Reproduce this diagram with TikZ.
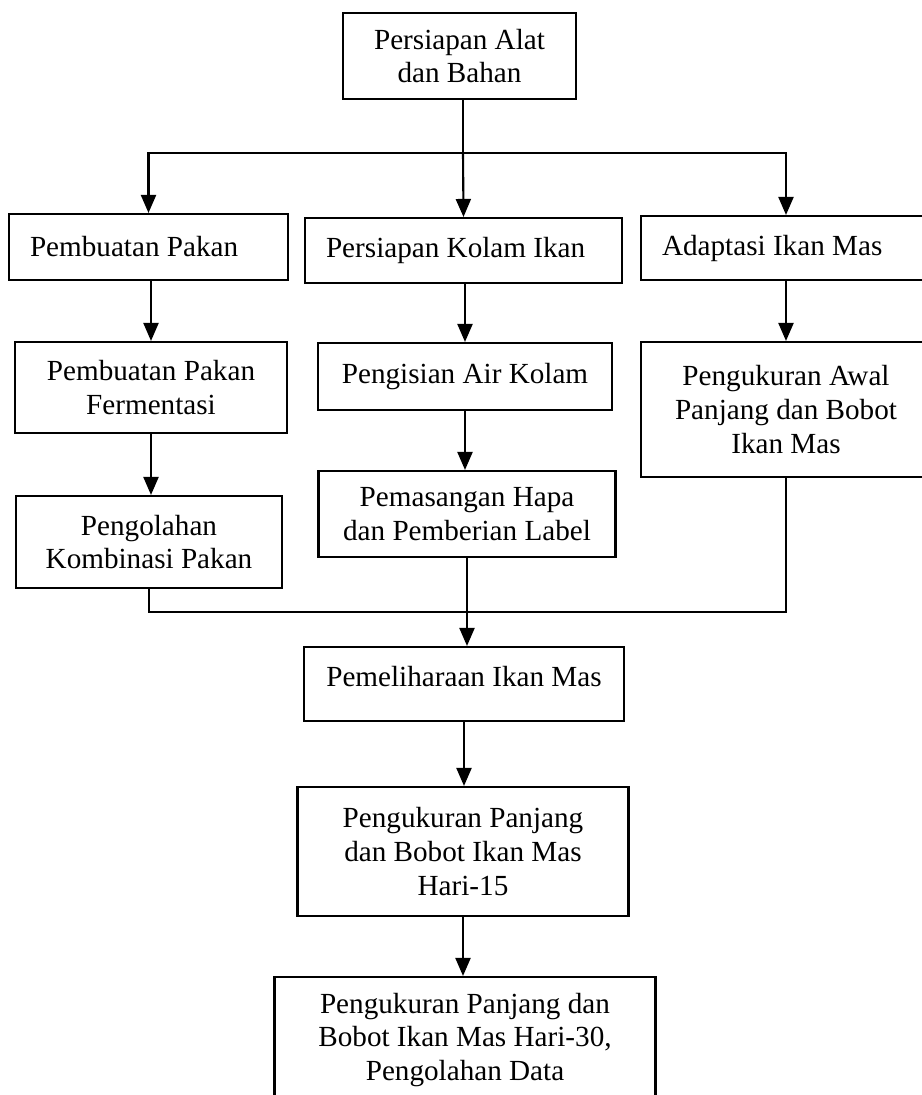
\documentclass[tikz,border=0pt]{standalone}
\usepackage{fontspec}
\setmainfont{Liberation Serif}
\usetikzlibrary{arrows.meta}

\begin{document}
\begin{tikzpicture}[x=0.02cm, y=-0.02cm,
		kotak/.style={draw, line width=1.2pt, align=center, inner sep=0pt, font=\fontsize{16.6}{19.3}\selectfont},
		kiri/.style={kotak, align=flush left, inner xsep=0.42cm},
		panah/.style={line width=1.2pt, -{Triangle[length=0.36cm, width=0.3cm]}},
		garis/.style={line width=1.2pt}]
			\useasboundingbox (0,0) rectangle (922,1095);
			% kotak atas
			\node[kotak, minimum width=4.66cm, minimum height=1.72cm] (atas) at (459.5,56) {Persiapan Alat\\dan Bahan};
			% baris pertama
			\node[kiri, text width=4.74cm, minimum height=1.32cm] (pakan) at (148.5,247) {Pembuatan Pakan};
			\node[kiri, text width=5.5cm, minimum height=1.3cm] (kolam) at (463.5,250.5) {Persiapan Kolam Ikan};
			\node[kiri, text width=4.96cm, minimum height=1.28cm] (adaptasi) at (786,248) {Adaptasi Ikan Mas};
			% baris kedua
			\node[kotak, minimum width=5.44cm, minimum height=1.82cm] (ferm) at (151,387.5) {Pembuatan Pakan\\Fermentasi};
			\node[kotak, minimum width=5.88cm, minimum height=1.34cm] (isi) at (465,376.5) {Pengisian Air Kolam};
			\node[kotak, minimum width=5.8cm, minimum height=2.7cm] (awal) at (786,409.5) {Pengukuran Awal\\Panjang dan Bobot\\Ikan Mas};
			% baris ketiga
			\node[kotak, minimum width=5.32cm, minimum height=1.84cm] (olah) at (149,542) {Pengolahan\\Kombinasi Pakan};
			\node[kotak, minimum width=5.94cm, minimum height=1.72cm] (pasang) at (467,514) {Pemasangan Hapa\\dan Pemberian Label};
			% kotak bawah
			\node[kotak, minimum width=6.4cm, minimum height=1.48cm, label={[font=\fontsize{16.6}{19.3}\selectfont, yshift=0.14cm]center:Pemeliharaan Ikan Mas}] (pelihara) at (464,684) {};
			\node[kotak, minimum width=6.62cm, minimum height=2.58cm] (hari15) at (463,851.5) {Pengukuran Panjang\\dan Bobot Ikan Mas\\Hari-15};
			\node[kotak, minimum width=7.62cm, minimum height=2.52cm] (akhir) at (465,1040) {Pengukuran Panjang dan\\Bobot Ikan Mas Hari-30,\\Pengolahan Data};
			% cabang atas
			\coordinate (cabang) at (463,153);
			\draw[garis] (atas.south -| cabang) -- (cabang);
			\draw[panah] (cabang) -| (pakan.north);
			\draw[panah] (cabang) -- (kolam.north);
			\draw[panah] (cabang) -| (adaptasi.north);
			% panah antar baris
			\draw[panah] (pakan.south -| ferm.north) -- (ferm.north);
			\draw[panah] (kolam.south -| isi.north) -- (isi.north);
			\draw[panah] (adaptasi.south) -- (awal.north);
			\draw[panah] (ferm.south) -- (ferm.south |- olah.north);
			\draw[panah] (isi.south) -- (isi.south |- pasang.north);
			% gabungan
			\coordinate (temu) at (467,612);
			\draw[garis] (olah.south) |- (temu) -| (awal.south);
			\draw[panah] (pasang.south) -- (pasang.south |- pelihara.north);
			\draw[panah] (pelihara.south) -- (pelihara.south |- hari15.north);
			\draw[panah] (hari15.south) -- (hari15.south |- akhir.north);
		\end{tikzpicture}
\end{document}
